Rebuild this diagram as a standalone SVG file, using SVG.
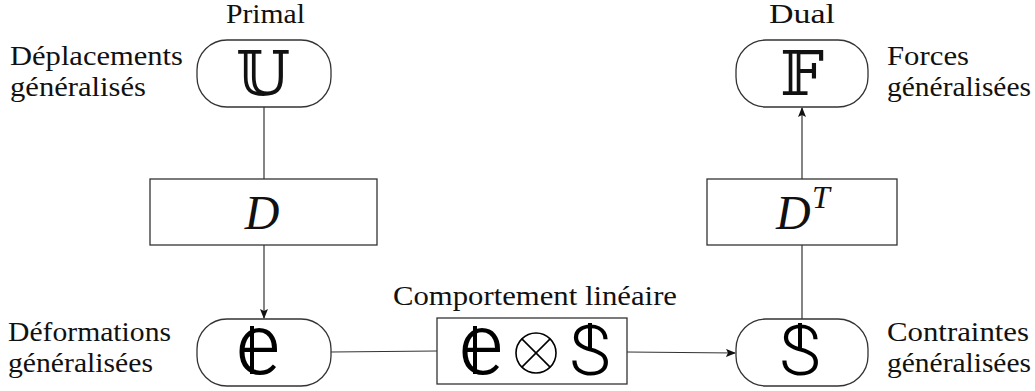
<svg xmlns="http://www.w3.org/2000/svg" width="1035" height="391" viewBox="0 0 1035 391">
<style>
.node{fill:#fff;stroke:#333;stroke-width:1.3}
.lbl{font-family:"Liberation Serif","DejaVu Serif",serif;font-size:27px;fill:#111}
.sym{font-family:"DejaVu Serif","DejaVu Sans",serif;font-size:62px;fill:#111;text-anchor:middle}
.cal{font-family:"Liberation Serif",serif;font-style:italic;font-size:48px;fill:#111}
.ee{font-family:Roboto,"DejaVu Sans",sans-serif;font-weight:300;font-size:86px;fill:#000;text-anchor:middle}
.ss{font-family:Roboto,"DejaVu Sans",sans-serif;font-weight:300;font-size:70px;fill:#000;text-anchor:middle}
.bar{stroke:#000;stroke-width:4}
.edge{stroke:#333;stroke-width:1.2;fill:none}
</style>
<defs>
<marker id="ah" markerWidth="10" markerHeight="8" refX="9" refY="4" orient="auto" markerUnits="userSpaceOnUse">
<path d="M0,0 L10,4 L0,8 L2,4 Z" fill="#111"/>
</marker>
</defs>
<g id="connectors">
<line class="edge" x1="264" y1="107" x2="264" y2="179"/>
<line class="edge" x1="264" y1="245" x2="264" y2="318" marker-end="url(#ah)"/>
<line class="edge" x1="331" y1="352" x2="437" y2="351"/>
<line class="edge" x1="627" y1="352" x2="735" y2="353" marker-end="url(#ah)"/>
<line class="edge" x1="802" y1="319" x2="802" y2="245"/>
<line class="edge" x1="802" y1="179" x2="802" y2="108" marker-end="url(#ah)"/>
</g>
<g id="label-primal"><text class="lbl" x="226" y="23" textLength="79" lengthAdjust="spacingAndGlyphs">Primal</text></g>
<g id="label-dual"><text class="lbl" x="769" y="23" textLength="66" lengthAdjust="spacingAndGlyphs">Dual</text></g>
<g id="label-deplacements"><text class="lbl" x="10" y="65" textLength="173" lengthAdjust="spacingAndGlyphs">Déplacements</text><text class="lbl" x="10" y="96" textLength="136" lengthAdjust="spacingAndGlyphs">généralisés</text></g>
<g id="label-forces"><text class="lbl" x="887" y="65" textLength="82" lengthAdjust="spacingAndGlyphs">Forces</text><text class="lbl" x="887" y="96" textLength="144" lengthAdjust="spacingAndGlyphs">généralisées</text></g>
<g id="label-comportement"><text class="lbl" x="393" y="305" textLength="284" lengthAdjust="spacingAndGlyphs">Comportement linéaire</text></g>
<g id="label-deformations"><text class="lbl" x="8" y="341" textLength="163" lengthAdjust="spacingAndGlyphs">Déformations</text><text class="lbl" x="8" y="372" textLength="145" lengthAdjust="spacingAndGlyphs">généralisées</text></g>
<g id="label-contraintes"><text class="lbl" x="887" y="341" textLength="142" lengthAdjust="spacingAndGlyphs">Contraintes</text><text class="lbl" x="887" y="372" textLength="144" lengthAdjust="spacingAndGlyphs">généralisées</text></g>
<g id="node-U">
<rect class="node" x="197" y="40" width="134" height="67" rx="30" ry="30"/>
<text class="sym" x="263" y="95">𝕌</text>
</g>
<g id="node-F">
<rect class="node" x="736" y="40" width="132" height="67" rx="30" ry="30"/>
<text class="sym" x="802" y="95">𝔽</text>
</g>
<g id="node-D">
<rect class="node" x="150" y="179" width="227" height="66"/>
<text class="cal" x="262" y="229" text-anchor="middle">D</text>
</g>
<g id="node-DT">
<rect class="node" x="707" y="179" width="190" height="66"/>
<text class="cal" x="776" y="229">D</text>
<text class="cal" x="812" y="208" style="font-size:32px">T</text>
</g>
<g id="node-e">
<rect class="node" x="197" y="319" width="134" height="67" rx="30" ry="30"/>
<text class="ee" x="258" y="374">e</text>
<line class="bar" x1="252" y1="326" x2="252" y2="374"/>
</g>
<g id="node-law">
<rect class="node" x="437" y="318" width="190" height="66"/>
<text class="ee" x="481" y="374">e</text>
<line class="bar" x1="475" y1="326" x2="475" y2="374"/>
<circle cx="536" cy="353" r="20" fill="none" stroke="#000" stroke-width="1.6"/>
<line x1="521.9" y1="338.9" x2="550.1" y2="367.1" stroke="#000" stroke-width="1.6"/>
<line x1="550.1" y1="338.9" x2="521.9" y2="367.1" stroke="#000" stroke-width="1.6"/>
<text class="ss" x="590" y="375">S</text>
<line class="bar" x1="590" y1="323" x2="590" y2="350"/>
</g>
<g id="node-S">
<rect class="node" x="736" y="319" width="132" height="67" rx="30" ry="30"/>
<text class="ss" x="800" y="375">S</text>
<line class="bar" x1="800" y1="323" x2="800" y2="350"/>
</g>
</svg>
